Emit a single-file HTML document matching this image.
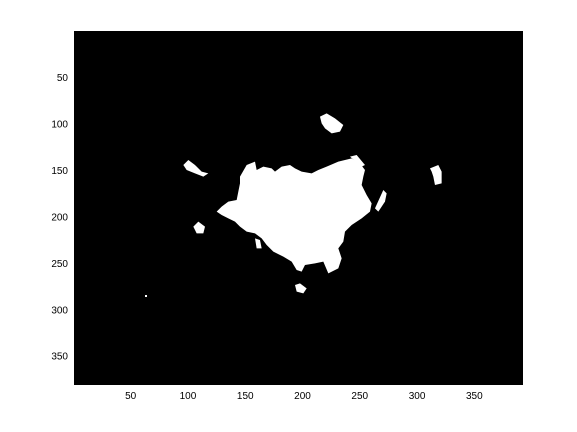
<!DOCTYPE html>
<html><head><meta charset="utf-8"><style>
html,body{margin:0;padding:0;background:#fff;width:577px;height:432px;overflow:hidden}
text{font-family:"Liberation Sans",sans-serif;font-size:10px;fill:#000}
</style></head><body>
<svg id="chart" width="577" height="432">
<rect x="74" y="31" width="449" height="354" fill="#000"/>
<g fill="#fff" transform="translate(175,105) scale(0.3333)">
<polygon points="195,215 215,180 240,170 245,195 265,185 290,190 300,200 320,185 345,180 360,190 380,200 410,205 430,195 455,185 490,170 530,160 555,175 570,195 565,215 560,240 575,270 590,295 585,320 560,340 530,360 510,380 505,410 490,430 500,460 490,490 460,505 445,470 420,475 390,480 380,500 365,495 350,470 325,455 295,440 275,420 260,400 240,385 215,380 195,365 180,350 160,340 140,330 125,320 140,305 160,290 185,285 190,260 195,235"/>
<polygon points="435,35 455,25 480,40 505,60 495,80 470,85 450,70 440,55"/>
<polygon points="25,180 40,165 60,180 80,200 100,205 85,215 60,205 35,195"/>
<polygon points="55,365 70,350 90,365 85,385 65,385"/>
<polygon points="765,190 790,180 800,200 800,235 780,240 775,215 770,200"/>
<polygon points="360,540 375,535 395,550 385,565 365,560"/>
<polygon points="600,310 625,255 635,265 630,290 610,320"/>
<polygon points="525,155 545,150 570,180 560,185"/>
<polygon points="240,400 255,405 260,430 245,430"/>
</g>
<rect x="145" y="295" width="2" height="2" fill="#fff"/>
<g id="xt"></g>
<g id="yt"></g>
</svg>
<script>
const xTicks=[50,100,150,200,250,300,350];
const yTicks=[50,100,150,200,250,300,350];
const ns="http://www.w3.org/2000/svg";
const X0=74,X1=523,NX=392,Y0=31,Y1=385,NY=381;
const sx=v=>X0+(v-0.5)*(X1-X0)/NX;
const sy=v=>Y0+(v-0.5)*(Y1-Y0)/NY;
const xg=document.getElementById('xt'),yg=document.getElementById('yt');
xTicks.forEach(v=>{const t=document.createElementNS(ns,'text');


t.setAttribute('x',sx(v));t.setAttribute('y',399);t.setAttribute('text-anchor','middle');t.textContent=v;xg.appendChild(t);});
yTicks.forEach(v=>{const t=document.createElementNS(ns,'text');


t.setAttribute('x',68);t.setAttribute('y',sy(v)+4);t.setAttribute('text-anchor','end');t.textContent=v;yg.appendChild(t);});
</script>
</body></html>
